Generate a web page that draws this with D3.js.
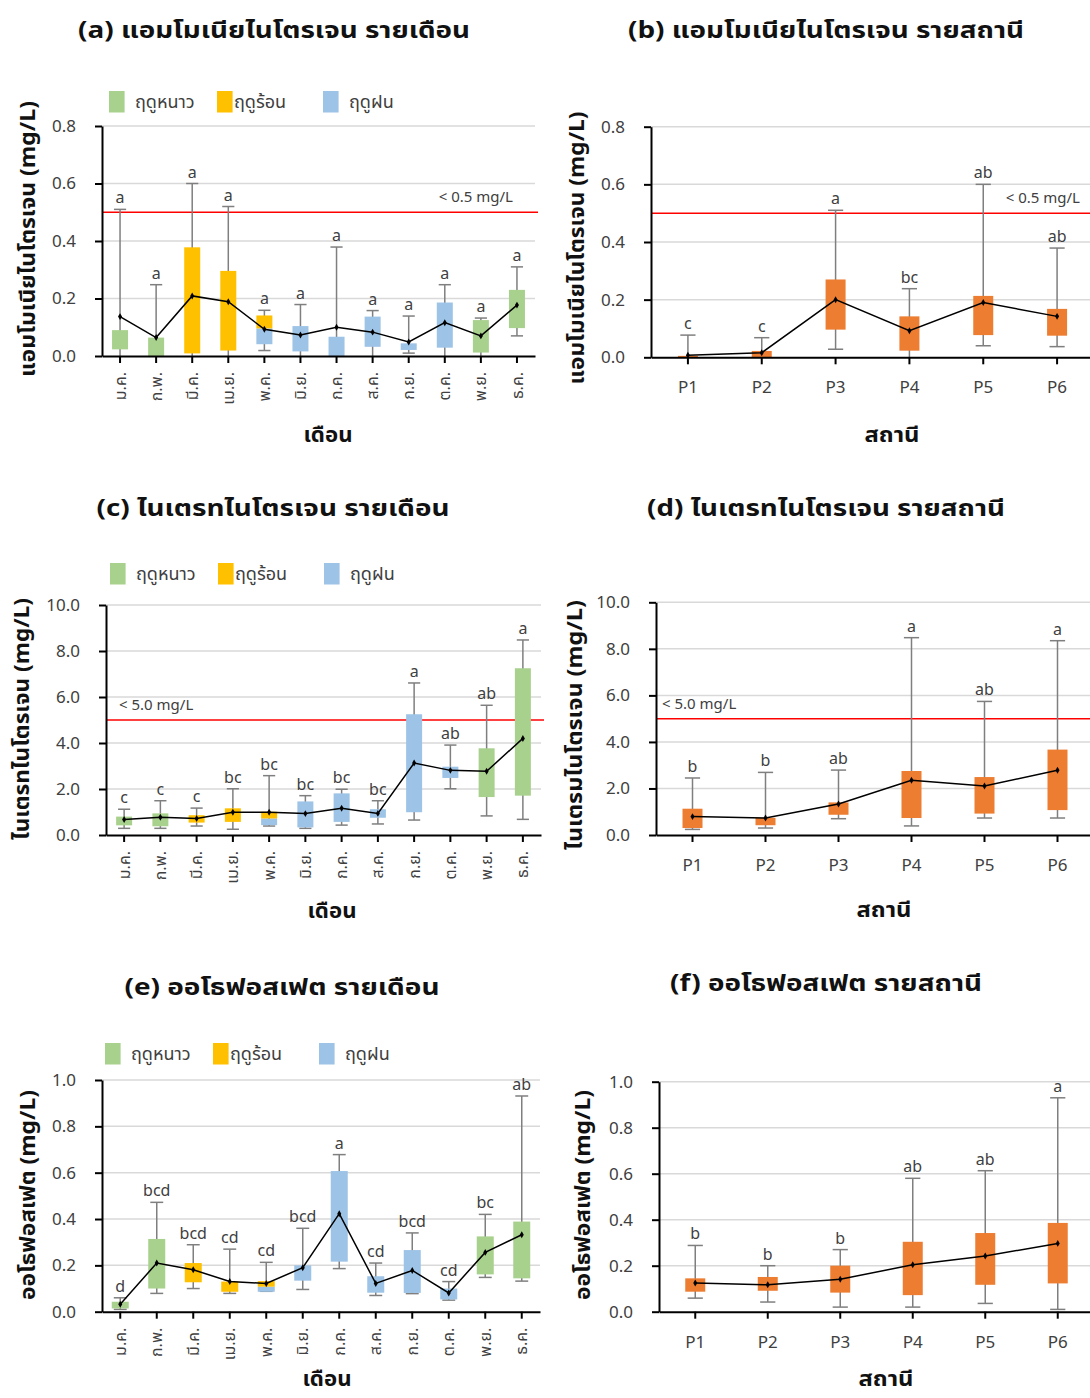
<!DOCTYPE html>
<html>
<head>
<meta charset="utf-8">
<script src="https://cdn.jsdelivr.net/npm/d3@7"></script>
<style>
  body { margin: 0; background: #fff; }
  svg { display: block; }
  text { font-family: "Noto Sans Thai", "Noto Sans Thai UI", "Loma", "Garuda", "Noto Sans", sans-serif; }
</style>
</head>
<body>
<svg id="chart" width="1090" height="1398"></svg>
<script>
const months = ['ม.ค.', 'ก.พ.', 'มี.ค.', 'เม.ย.', 'พ.ค.', 'มิ.ย.', 'ก.ค.', 'ส.ค.', 'ก.ย.', 'ต.ค.', 'พ.ย.', 'ธ.ค.'];
const stations = ['P1', 'P2', 'P3', 'P4', 'P5', 'P6'];

// season of the lower / upper half of each monthly box (w winter, s summer, r rainy)
const monthLower = ['w', 'w', 's', 's', 'r', 'r', 'r', 'r', 'r', 'r', 'w', 'w'];
const monthUpper = ['w', 'w', 's', 's', 's', 'r', 'r', 'r', 'r', 'r', 'w', 'w'];
const seasonKeys = ['w', 's', 'r'];
const seasonNames = ['ฤดูหนาว', 'ฤดูร้อน', 'ฤดูฝน'];

// (a) ammonia nitrogen by month
const nh3MonthMax  = [0.51, 0.248, 0.60, 0.52, 0.159, 0.179, 0.379, 0.158, 0.139, 0.248, 0.132, 0.31];
const nh3MonthQ3   = [0.09, 0.064, 0.378, 0.296, 0.141, 0.104, 0.067, 0.137, 0.044, 0.186, 0.125, 0.23];
const nh3MonthQ1   = [0.023, 0, 0.009, 0.019, 0.041, 0.016, 0, 0.032, 0.021, 0.029, 0.012, 0.097];
const nh3MonthMin  = [0, 0, 0, 0, 0.019, 0, 0, 0, 0.01, 0, 0, 0.07];
const nh3MonthMed  = [null, null, null, null, 0.096, null, null, null, null, null, null, null];
const nh3MonthMean = [0.137, 0.064, 0.209, 0.189, 0.093, 0.073, 0.10, 0.083, 0.049, 0.116, 0.070, 0.177];
const nh3MonthSig  = ['a', 'a', 'a', 'a', 'a', 'a', 'a', 'a', 'a', 'a', 'a', 'a'];

// (b) ammonia nitrogen by station
const nh3StMax  = [0.077, 0.068, 0.51, 0.238, 0.60, 0.379];
const nh3StQ3   = [0.005, 0.022, 0.27, 0.142, 0.213, 0.168];
const nh3StQ1   = [0, 0, 0.096, 0.023, 0.077, 0.075];
const nh3StMin  = [0, 0, 0.028, 0, 0.04, 0.037];
const nh3StMean = [0.007, 0.016, 0.20, 0.092, 0.19, 0.142];
const nh3StSig  = ['c', 'c', 'a', 'bc', 'ab', 'ab'];

// (c) nitrate nitrogen by month
const no3MonthMax  = [1.12, 1.49, 1.17, 2.01, 2.58, 1.71, 1.99, 1.49, 6.61, 3.91, 5.64, 8.48];
const no3MonthQ3   = [0.80, 0.94, 0.86, 1.16, 1.01, 1.46, 1.81, 1.12, 5.25, 2.97, 3.77, 7.25];
const no3MonthQ1   = [0.42, 0.38, 0.54, 0.57, 0.43, 0.33, 0.57, 0.75, 0.99, 2.48, 1.65, 1.71];
const no3MonthMin  = [0.29, 0.29, 0.39, 0.25, 0.39, 0.29, 0.43, 0.48, 0.65, 2.01, 0.83, 0.68];
const no3MonthMed  = [null, null, null, null, 0.72, null, null, null, null, null, null, null];
const no3MonthMean = [0.67, 0.77, 0.72, 0.99, 0.99, 0.93, 1.16, 0.94, 3.13, 2.81, 2.77, 4.20];
const no3MonthSig  = ['c', 'c', 'c', 'bc', 'bc', 'bc', 'bc', 'bc', 'a', 'ab', 'ab', 'a'];

// (d) nitrate nitrogen by station
const no3StMax  = [2.45, 2.69, 2.79, 8.48, 5.74, 8.35];
const no3StQ3   = [1.13, 0.74, 1.40, 2.75, 2.49, 3.67];
const no3StQ1   = [0.30, 0.42, 0.87, 0.73, 0.92, 1.07];
const no3StMin  = [0.24, 0.30, 0.70, 0.39, 0.73, 0.73];
const no3StMean = [0.79, 0.73, 1.33, 2.35, 2.11, 2.78];
const no3StSig  = ['b', 'b', 'ab', 'a', 'ab', 'a'];

// (e) orthophosphate by month
const po4MonthMax  = [0.06, 0.472, 0.289, 0.27, 0.213, 0.36, 0.678, 0.21, 0.34, 0.13, 0.42, 0.931];
const po4MonthQ3   = [0.043, 0.314, 0.21, 0.13, 0.132, 0.20, 0.607, 0.153, 0.266, 0.10, 0.325, 0.389];
const po4MonthQ1   = [0.014, 0.10, 0.127, 0.086, 0.086, 0.134, 0.216, 0.082, 0.081, 0.053, 0.161, 0.144];
const po4MonthMin  = [0.01, 0.079, 0.10, 0.079, 0.088, 0.096, 0.186, 0.07, 0.078, 0.05, 0.148, 0.132];
const po4MonthMed  = [null, null, null, null, 0.108, null, null, null, null, null, null, null];
const po4MonthMean = [0.032, 0.21, 0.181, 0.13, 0.122, 0.19, 0.423, 0.122, 0.178, 0.081, 0.256, 0.332];
const po4MonthSig  = ['d', 'bcd', 'bcd', 'cd', 'cd', 'bcd', 'a', 'cd', 'bcd', 'cd', 'bc', 'ab'];

// (f) orthophosphate by station
const po4StMax  = [0.288, 0.20, 0.27, 0.58, 0.613, 0.93];
const po4StQ3   = [0.145, 0.151, 0.20, 0.304, 0.342, 0.386];
const po4StQ1   = [0.087, 0.091, 0.083, 0.072, 0.117, 0.123];
const po4StMin  = [0.059, 0.042, 0.02, 0.02, 0.036, 0.01];
const po4StMean = [0.125, 0.117, 0.141, 0.204, 0.242, 0.297];
const po4StSig  = ['b', 'b', 'b', 'ab', 'ab', 'a'];

const ticks08 = [0, 0.2, 0.4, 0.6, 0.8];
const ticks10 = [0, 2, 4, 6, 8, 10];
const ticks1  = [0, 0.2, 0.4, 0.6, 0.8, 1.0];

const seasonColor = { w: '#a9d18e', s: '#ffc000', r: '#9dc3e6' };
const stationColor = '#ed7d31';
const textColor = '#404040';

const svg = d3.select('#chart');

function rows(cats, min, q1, q3, max, mean, sig, med) {
  return cats.map((c, i) => ({
    cat: c, min: min[i], q1: q1[i], q3: q3[i], max: max[i], mean: mean[i], sig: sig[i],
    med: med ? med[i] : null, lower: med ? monthLower[i] : null, upper: med ? monthUpper[i] : null
  }));
}

// layout: tw / yw / xw = widths the titles are stretched to
const panels = [
  { title: '(a) แอมโมเนียไนโตรเจน รายเดือน', tx: 274, ty: 38, tw: 392,
    ylabel: 'แอมโมเนียไนโตรเจน (mg/L)', yx: 28, yy: 239, yw: 276,
    xlabel: 'เดือน', xx: 328, xy: 442, xw: 49,
    left: 102, right: 535, top: 126, bottom: 356, yMax: 0.8, ticks: ticks08,
    limit: 0.5, limitLabel: '< 0.5 mg/L', lx: 513, lanchor: 'end', legend: { x: 109, y: 91 },
    boxW: 16, monthly: true,
    data: rows(months, nh3MonthMin, nh3MonthQ1, nh3MonthQ3, nh3MonthMax, nh3MonthMean, nh3MonthSig, nh3MonthMed) },
  { title: '(b) แอมโมเนียไนโตรเจน รายสถานี', tx: 826, ty: 38, tw: 396,
    ylabel: 'แอมโมเนียไนโตรเจน (mg/L)', yx: 577, yy: 248, yw: 273,
    xlabel: 'สถานี', xx: 892, xy: 442, xw: 55,
    left: 651, right: 1094, top: 126.7, bottom: 357.3, yMax: 0.8, ticks: ticks08,
    limit: 0.5, limitLabel: '< 0.5 mg/L', lx: 1080, lanchor: 'end',
    boxW: 20, monthly: false,
    data: rows(stations, nh3StMin, nh3StQ1, nh3StQ3, nh3StMax, nh3StMean, nh3StSig) },
  { title: '(c) ไนเตรทไนโตรเจน รายเดือน', tx: 273, ty: 516, tw: 353,
    ylabel: 'ไนเตรทไนโตรเจน (mg/L)', yx: 22, yy: 719, yw: 242,
    xlabel: 'เดือน', xx: 332, xy: 918, xw: 49,
    left: 106, right: 541, top: 605, bottom: 835, yMax: 10, ticks: ticks10,
    limit: 5, limitLabel: '< 5.0 mg/L', lx: 119, lanchor: 'start', legend: { x: 110, y: 563 },
    boxW: 16, monthly: true,
    data: rows(months, no3MonthMin, no3MonthQ1, no3MonthQ3, no3MonthMax, no3MonthMean, no3MonthSig, no3MonthMed) },
  { title: '(d) ไนเตรทไนโตรเจน รายสถานี', tx: 826, ty: 516, tw: 358,
    ylabel: 'ไนเตรมไนโตรเจน (mg/L)', yx: 575, yy: 725, yw: 250,
    xlabel: 'สถานี', xx: 884, xy: 917, xw: 55,
    left: 656, right: 1094, top: 602.3, bottom: 835, yMax: 10, ticks: ticks10,
    limit: 5, limitLabel: '< 5.0 mg/L', lx: 662, lanchor: 'start',
    boxW: 20, monthly: false,
    data: rows(stations, no3StMin, no3StQ1, no3StQ3, no3StMax, no3StMean, no3StSig) },
  { title: '(e) ออโธฟอสเฟต รายเดือน', tx: 282, ty: 995, tw: 315,
    ylabel: 'ออโธฟอสเฟต (mg/L)', yx: 28, yy: 1195, yw: 210,
    xlabel: 'เดือน', xx: 327, xy: 1386, xw: 49,
    left: 102, right: 540, top: 1080, bottom: 1311.7, yMax: 1.0, ticks: ticks1,
    legend: { x: 105, y: 1043 },
    boxW: 17, monthly: true,
    data: rows(months, po4MonthMin, po4MonthQ1, po4MonthQ3, po4MonthMax, po4MonthMean, po4MonthSig, po4MonthMed) },
  { title: '(f) ออโธฟอสเฟต รายสถานี', tx: 826, ty: 991, tw: 312,
    ylabel: 'ออโธฟอสเฟต (mg/L)', yx: 583, yy: 1195, yw: 210,
    xlabel: 'สถานี', xx: 886, xy: 1386, xw: 55,
    left: 659, right: 1094, top: 1081.7, bottom: 1311.7, yMax: 1.0, ticks: ticks1,
    boxW: 20, monthly: false,
    data: rows(stations, po4StMin, po4StQ1, po4StQ3, po4StMax, po4StMean, po4StSig) }
];

function drawPanel(p) {
  const g = svg.append('g');
  const x = d3.scaleBand().domain(p.data.map(d => d.cat)).range([p.left, p.right]);
  const y = d3.scaleLinear().domain([0, p.yMax]).range([p.bottom, p.top]);
  const cx = d => x(d.cat) + x.bandwidth() / 2;
  const capW = p.boxW * 0.38;

  // Title
  svg.append('text')
    .attr('x', p.tx).attr('y', p.ty)
    .attr('text-anchor', 'middle')
    .attr('font-size', '23px').attr('font-weight', 'bold')
    .attr('fill', '#111')
    .attr('textLength', p.tw).attr('lengthAdjust', 'spacingAndGlyphs')
    .text(p.title);

  // gridlines
  g.append('g').selectAll('line')
    .data(p.ticks.filter(t => t > 0))
    .join('line')
    .attr('x1', p.left).attr('x2', p.right)
    .attr('y1', d => y(d)).attr('y2', d => y(d))
    .attr('stroke', '#d9d9d9').attr('stroke-width', 1.5);

  // limit line
  if (p.limit != null) {
    g.append('line')
      .attr('x1', p.left).attr('x2', p.right + 3)
      .attr('y1', y(p.limit)).attr('y2', y(p.limit))
      .attr('stroke', '#ff0000').attr('stroke-width', 1.5);
    g.append('text')
      .attr('x', p.lx).attr('y', y(p.limit) - 10)
      .attr('text-anchor', p.lanchor)
      .attr('font-size', '15px').attr('fill', textColor)
      .text(p.limitLabel);
  }

  // whiskers
  const wh = g.append('g').attr('stroke', '#7f7f7f').attr('stroke-width', 1.5);
  wh.selectAll('.wl').data(p.data).join('line')
    .attr('x1', cx).attr('x2', cx)
    .attr('y1', d => y(d.max)).attr('y2', d => y(d.min));
  wh.selectAll('.wt').data(p.data).join('line')
    .attr('x1', d => cx(d) - capW).attr('x2', d => cx(d) + capW)
    .attr('y1', d => y(d.max)).attr('y2', d => y(d.max));
  wh.selectAll('.wb').data(p.data.filter(d => d.min > 0)).join('line')
    .attr('x1', d => cx(d) - capW).attr('x2', d => cx(d) + capW)
    .attr('y1', d => y(d.min)).attr('y2', d => y(d.min));

  // boxes
  const bx = g.append('g');
  p.data.forEach(d => {
    const x0 = cx(d) - p.boxW / 2;
    if (p.monthly && d.med != null) {
      bx.append('rect').attr('x', x0).attr('width', p.boxW)
        .attr('y', y(d.med)).attr('height', y(d.q1) - y(d.med))
        .attr('fill', seasonColor[d.lower]);
      bx.append('rect').attr('x', x0).attr('width', p.boxW)
        .attr('y', y(d.q3)).attr('height', y(d.med) - y(d.q3))
        .attr('fill', seasonColor[d.upper]);
    } else {
      bx.append('rect').attr('x', x0).attr('width', p.boxW)
        .attr('y', y(d.q3)).attr('height', Math.max(0.5, y(d.q1) - y(d.q3)))
        .attr('fill', p.monthly ? seasonColor[d.lower] : stationColor);
    }
  });

  // significance letters
  g.append('g').selectAll('text').data(p.data).join('text')
    .attr('x', cx).attr('y', d => y(d.max) - 6)
    .attr('text-anchor', 'middle')
    .attr('font-size', '16px').attr('fill', textColor)
    .text(d => d.sig);

  // mean line
  const line = d3.line().x(cx).y(d => y(d.mean));
  g.append('path').datum(p.data)
    .attr('fill', 'none').attr('stroke', '#000').attr('stroke-width', 1.5)
    .attr('d', line);
  g.append('g').selectAll('path').data(p.data).join('path')
    .attr('d', d3.symbol(d3.symbolDiamond, 14))
    .attr('transform', d => `translate(${cx(d)},${y(d.mean)})`)
    .attr('fill', '#000');

  // axes
  const yAxis = g.append('g')
    .attr('transform', `translate(${p.left},0)`)
    .call(d3.axisLeft(y).tickValues(p.ticks).tickSize(7).tickSizeOuter(0).tickPadding(19).tickFormat(d3.format('.1f')));
  yAxis.select('.domain').attr('stroke', '#000').attr('stroke-width', 2);
  yAxis.selectAll('.tick line').attr('stroke', '#000').attr('stroke-width', 2);
  yAxis.selectAll('text').attr('font-size', '17px').attr('fill', textColor)
    .style('font-family', 'Noto Sans, sans-serif');

  const xAxis = g.append('g')
    .attr('transform', `translate(0,${p.bottom})`)
    .call(d3.axisBottom(x).tickSize(7).tickSizeOuter(0));
  xAxis.select('.domain').attr('stroke', '#000').attr('stroke-width', 2);
  xAxis.selectAll('.tick line').attr('stroke', '#000').attr('stroke-width', 2);
  if (p.monthly) {
    xAxis.selectAll('text')
      .attr('transform', 'rotate(-90)')
      .attr('x', -16).attr('y', 0).attr('dy', '0.35em')
      .attr('text-anchor', 'end')
      .attr('font-size', '16px').attr('fill', textColor);
  } else {
    xAxis.selectAll('text')
      .attr('y', 30).attr('dy', '0.35em')
      .attr('font-size', '17px').attr('fill', textColor)
      .style('font-family', 'Noto Sans, sans-serif');
  }

  // axis titles
  svg.append('text')
    .attr('transform', `translate(${p.yx},${p.yy}) rotate(-90)`)
    .attr('text-anchor', 'middle').attr('dy', '0.35em')
    .attr('font-size', '21px').attr('font-weight', 'bold').attr('fill', '#111')
    .attr('textLength', p.yw).attr('lengthAdjust', 'spacingAndGlyphs')
    .text(p.ylabel);
  svg.append('text')
    .attr('x', p.xx).attr('y', p.xy)
    .attr('text-anchor', 'middle')
    .attr('font-size', '21px').attr('font-weight', 'bold').attr('fill', '#111')
    .attr('textLength', p.xw).attr('lengthAdjust', 'spacingAndGlyphs')
    .text(p.xlabel);

  // legend
  if (p.legend) {
    const offs = [0, 108, 214];
    seasonKeys.forEach((k, i) => {
      svg.append('rect')
        .attr('x', p.legend.x + offs[i]).attr('y', p.legend.y)
        .attr('width', 15.6).attr('height', 21.5)
        .attr('fill', seasonColor[k]);
      svg.append('text')
        .attr('x', p.legend.x + offs[i] + (i === 1 ? 17 : 26)).attr('y', p.legend.y + 17)
        .attr('font-size', '18px').attr('fill', textColor)
        .text(seasonNames[i]);
    });
  }
}

panels.forEach(drawPanel);
</script>
</body>
</html>
